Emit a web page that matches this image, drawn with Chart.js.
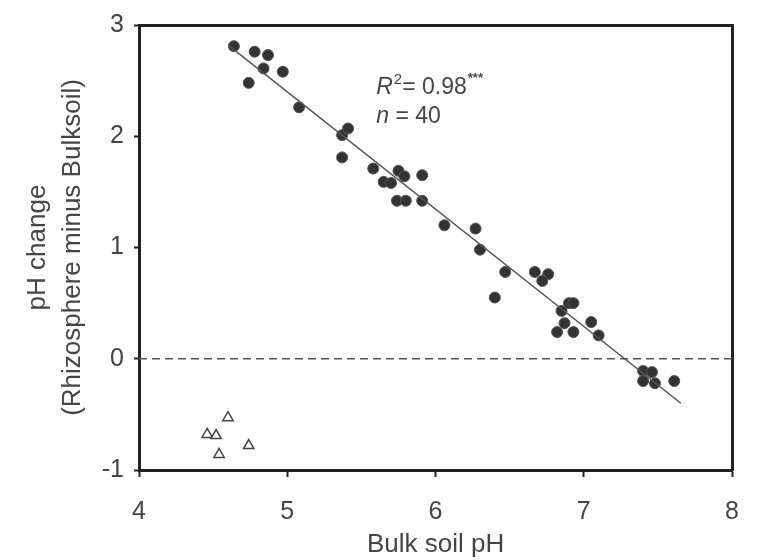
<!DOCTYPE html>
<html>
<head>
<meta charset="utf-8">
<script src="https://cdn.jsdelivr.net/npm/chart.js@4"></script>
<style>
  body { margin: 0; background: #fff; }
  #wrap { width: 759px; height: 560px; }
</style>
</head>
<body>
<div id="wrap"><canvas id="chart"></canvas></div>
<script>
// measured points (bulk soil pH vs. pH change)
const dotX = [4.64, 4.78, 4.87, 4.84, 4.97, 4.74, 5.08, 5.37, 5.41, 5.37,
              5.58, 5.65, 5.70, 5.75, 5.79, 5.91, 5.74, 5.80, 5.91, 6.06,
              6.27, 6.30, 6.47, 6.67, 6.76, 6.72, 6.40, 6.85, 6.90, 6.93,
              6.87, 6.82, 6.93, 7.05, 7.10, 7.40, 7.46, 7.40, 7.48, 7.61]
const dotY = [2.81, 2.76, 2.73, 2.61, 2.58, 2.48, 2.26, 2.01, 2.07, 1.81,
              1.71, 1.59, 1.58, 1.69, 1.64, 1.65, 1.42, 1.42, 1.42, 1.20,
              1.17, 0.98, 0.78, 0.78, 0.76, 0.70, 0.55, 0.43, 0.50, 0.50,
              0.32, 0.24, 0.24, 0.33, 0.21, -0.11, -0.12, -0.20, -0.22, -0.20]

// excluded samples (open triangles)
const triX = [4.60, 4.46, 4.52, 4.74, 4.54]
const triY = [-0.53, -0.68, -0.69, -0.78, -0.86]

// regression line end points
const fitX = [4.61, 7.655]
const fitY = [2.81, -0.40]

// zero reference
const zeroX = [4, 8]
const zeroY = [0, 0]

const xTicks = [4, 5, 6, 7, 8]
const yTicks = [-1, 0, 1, 2, 3]

const toPts = (xs, ys) => xs.map((x, i) => ({x: x, y: ys[i]}))

const FONT = '"Liberation Sans", Arial, sans-serif'
const TXT = '#454545'
const AXIS = '#222'

// R^2 / n label drawn in data coordinates
const statsLabel = {
    id: 'statsLabel',
    afterDatasetsDraw(chart) {
        const {ctx, scales: {x, y}} = chart
        ctx.save()
        ctx.fillStyle = TXT
        ctx.textBaseline = 'alphabetic'
        ctx.textAlign = 'left'
        let px = x.getPixelForValue(5.60)
        let py = y.getPixelForValue(2.38)
        ctx.font = 'italic 23px ' + FONT
        ctx.fillText('R', px, py)
        px += ctx.measureText('R').width
        ctx.font = '15px ' + FONT
        ctx.fillText('2', px + 1, py - 10)
        px += ctx.measureText('2').width + 1
        ctx.font = '23px ' + FONT
        ctx.fillText('= 0.98', px, py)
        px += ctx.measureText('= 0.98').width
        ctx.font = 'bold 13px ' + FONT
        ctx.fillText('***', px + 1, py - 12)

        px = x.getPixelForValue(5.60)
        py = y.getPixelForValue(2.12)
        ctx.font = 'italic 23px ' + FONT
        ctx.fillText('n', px, py)
        px += ctx.measureText('n').width
        ctx.font = '23px ' + FONT
        ctx.fillText(' = 40', px, py)
        ctx.restore()
    }
}

const chart = document.getElementById('chart').getContext('2d')

new Chart(chart, {
    type: 'scatter',
    data: {
        datasets: [
            {
                data: toPts(zeroX, zeroY),
                showLine: true,
                borderColor: '#555',
                borderWidth: 1.5,
                borderDash: [8, 5],
                pointRadius: 0
            },
            {
                data: toPts(fitX, fitY),
                showLine: true,
                borderColor: '#555',
                borderWidth: 1.5,
                pointRadius: 0
            },
            {
                data: toPts(dotX, dotY),
                pointRadius: 5.5,
                backgroundColor: '#333',
                borderColor: '#555',
                borderWidth: 1
            },
            {
                data: toPts(triX, triY),
                pointStyle: 'triangle',
                pointRadius: 6,
                backgroundColor: '#fff',
                borderColor: '#444',
                borderWidth: 1.5
            }
        ]
    },
    options: {
        responsive: true,
        maintainAspectRatio: false,
        animation: false,
        layout: { padding: { left: 0, top: 17, right: 24, bottom: 0 } },
        plugins: { legend: { display: false }, tooltip: { enabled: false } },
        scales: {
            x: {
                type: 'linear',
                min: 4, max: 8,
                afterBuildTicks: s => { s.ticks = xTicks.map(v => ({value: v})) },
                afterFit: s => { s.height = 90 },
                grid: { drawOnChartArea: false, tickLength: 7, tickWidth: 2, color: AXIS },
                border: { color: AXIS, width: 3 },
                ticks: { color: TXT, font: { family: FONT, size: 25 }, padding: 20 },
                title: {
                    display: true, text: 'Bulk soil pH', color: TXT,
                    font: { family: FONT, size: 26 }, padding: { top: 0, bottom: 0 }
                }
            },
            y: {
                type: 'linear',
                min: -1, max: 3,
                afterBuildTicks: s => { s.ticks = yTicks.map(v => ({value: v})) },
                afterFit: s => { s.width = 139 },
                grid: { drawOnChartArea: false, tickLength: 5, tickWidth: 2, color: AXIS },
                border: { color: AXIS, width: 3 },
                ticks: { color: TXT, font: { family: FONT, size: 25 }, padding: 10 },
                title: {
                    display: true,
                    text: ['pH change', '(Rhizosphere minus Bulksoil)'],
                    color: TXT,
                    font: { family: FONT, size: 26, lineHeight: 1.35 },
                    padding: { top: 20, bottom: 0 }
                }
            },
            xTop: {
                type: 'linear', position: 'top', min: 4, max: 8,
                afterFit: s => { s.height = 0 },
                grid: { display: false },
                ticks: { display: false },
                border: { color: AXIS, width: 3 }
            },
            yRight: {
                type: 'linear', position: 'right', min: -1, max: 3,
                afterFit: s => { s.width = 0 },
                grid: { display: false },
                ticks: { display: false },
                border: { color: AXIS, width: 3 }
            }
        }
    },
    plugins: [statsLabel]
})
</script>
</body>
</html>
